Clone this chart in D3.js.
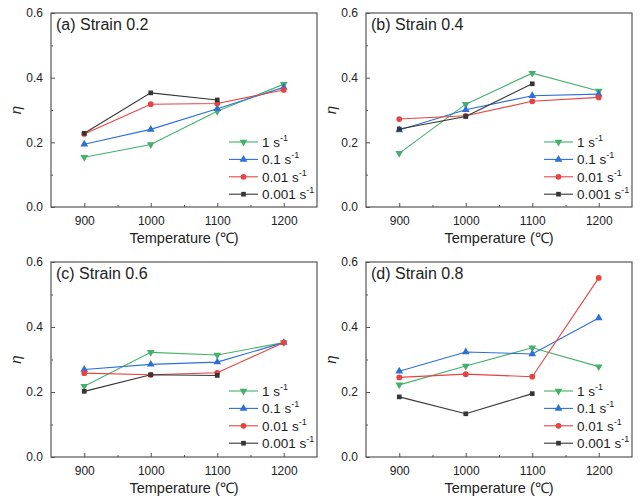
<!DOCTYPE html>
<html>
<head>
<meta charset="utf-8">
<script src="https://cdn.jsdelivr.net/npm/d3@7"></script>
<style>
  html, body { margin: 0; padding: 0; background: #fff; }
  svg { display: block; font-family: "Liberation Sans", Arial, sans-serif; }
</style>
</head>
<body>
<svg id="chart" width="642" height="504"></svg>
<script>
// ---- data ----
const temperatures = [900, 1000, 1100, 1200];
const rateLabels = ["1", "0.1", "0.01", "0.001"];
const panelTitles = ["(a) Strain 0.2", "(b) Strain 0.4", "(c) Strain 0.6", "(d) Strain 0.8"];
const yTicks = [0.0, 0.2, 0.4, 0.6];
const xTicks = [900, 1000, 1100, 1200];

// panel (a) strain 0.2
const a_1     = [0.154, 0.193, 0.296, 0.380];
const a_01    = [0.194, 0.240, 0.304, 0.370];
const a_001   = [0.226, 0.318, 0.320, 0.362];
const a_0001  = [0.228, 0.353, 0.331];
// panel (b) strain 0.4
const b_1     = [0.166, 0.318, 0.414, 0.359];
const b_01    = [0.238, 0.301, 0.344, 0.349];
const b_001   = [0.272, 0.282, 0.327, 0.339];
const b_0001  = [0.241, 0.280, 0.381];
// panel (c) strain 0.6
const c_1     = [0.218, 0.322, 0.314, 0.352];
const c_01    = [0.269, 0.285, 0.292, 0.352];
const c_001   = [0.258, 0.253, 0.259, 0.352];
const c_0001  = [0.202, 0.253, 0.251];
// panel (d) strain 0.8
const d_1     = [0.222, 0.280, 0.336, 0.278];
const d_01    = [0.264, 0.323, 0.317, 0.428];
const d_001   = [0.245, 0.255, 0.247, 0.551];
const d_0001  = [0.185, 0.133, 0.195];

const panelSeries = [
  [a_1, a_01, a_001, a_0001],
  [b_1, b_01, b_001, b_0001],
  [c_1, c_01, c_001, c_0001],
  [d_1, d_01, d_001, d_0001]
];

// ---- styling ----
const colors = ["#45b06c", "#2c6fd6", "#e84343", "#363636"];
const symbols = [d3.symbolTriangle, d3.symbolTriangle, d3.symbolCircle, d3.symbolSquare];
const symbolRot = [180, 0, 0, 0];
const symbolSize = [26, 26, 26, 22];

const panelBoxes = [
  {x0: 51,  x1: 317, y0: 13,  y1: 207},
  {x0: 366, x1: 632, y0: 13,  y1: 207},
  {x0: 51,  x1: 317, y0: 262, y1: 457},
  {x0: 366, x1: 632, y0: 262, y1: 457}
];

const svg = d3.select("#chart");
const axisColor = "#555";
const textColor = "#222";

panelBoxes.forEach((box, pi) => {
  const x = d3.scaleLinear().domain([850, 1250]).range([box.x0, box.x1]);
  const y = d3.scaleLinear().domain([0, 0.6]).range([box.y1, box.y0]);
  const g = svg.append("g");

  // frame
  g.append("rect")
    .attr("x", box.x0).attr("y", box.y0)
    .attr("width", box.x1 - box.x0).attr("height", box.y1 - box.y0)
    .attr("fill", "none").attr("stroke", axisColor).attr("stroke-width", 1.2);

  // x axis (ticks inward)
  const xAxis = d3.axisBottom(x).tickValues(xTicks).tickSizeInner(-4).tickSizeOuter(0).tickPadding(9).tickFormat(d3.format("d"));
  const gx = g.append("g").attr("transform", `translate(0,${box.y1})`).call(xAxis);
  gx.select(".domain").remove();
  gx.selectAll("line").attr("stroke", axisColor);
  gx.selectAll("text").attr("font-size", 12).attr("fill", textColor).attr("font-family", "Liberation Sans, Arial, sans-serif");
  const xMinor = d3.axisBottom(x).tickValues([950, 1050, 1150]).tickSizeInner(-2).tickSizeOuter(0).tickFormat("");
  const gxm = g.append("g").attr("transform", `translate(0,${box.y1})`).call(xMinor);
  gxm.select(".domain").remove();
  gxm.selectAll("line").attr("stroke", axisColor);

  // y axis
  const yAxis = d3.axisLeft(y).tickValues(yTicks).tickSizeInner(-4).tickSizeOuter(0).tickPadding(8).tickFormat(d3.format(".1f"));
  const gy = g.append("g").attr("transform", `translate(${box.x0},0)`).call(yAxis);
  gy.select(".domain").remove();
  gy.selectAll("line").attr("stroke", axisColor);
  gy.selectAll("text").attr("font-size", 12).attr("fill", textColor).attr("font-family", "Liberation Sans, Arial, sans-serif");
  const yMinor = d3.axisLeft(y).tickValues([0.1, 0.3, 0.5]).tickSizeInner(-2).tickSizeOuter(0).tickFormat("");
  const gym = g.append("g").attr("transform", `translate(${box.x0},0)`).call(yMinor);
  gym.select(".domain").remove();
  gym.selectAll("line").attr("stroke", axisColor);

  // axis titles
  g.append("text")
    .attr("x", (box.x0 + box.x1) / 2).attr("y", box.y1 + 36)
    .attr("text-anchor", "middle").attr("font-size", 14.5).attr("fill", textColor)
    .text("Temperature (℃)");
  g.append("text")
    .attr("transform", `translate(${box.x0 - 30},${(box.y0 + box.y1) / 2}) rotate(-90)`)
    .attr("text-anchor", "middle").attr("font-size", 15).attr("fill", textColor)
    .attr("font-style", "italic")
    .text("η");

  // panel title
  g.append("text")
    .attr("x", box.x0 + 5).attr("y", box.y0 + 17)
    .attr("font-size", 16).attr("fill", textColor)
    .text(panelTitles[pi]);

  // series
  const line = d3.line().x((d, i) => x(temperatures[i])).y(d => y(d));
  panelSeries[pi].forEach((vals, si) => {
    g.append("path").datum(vals)
      .attr("d", line).attr("fill", "none")
      .attr("stroke", colors[si]).attr("stroke-width", 1.1);
    g.selectAll(null).data(vals).enter().append("path")
      .attr("d", d3.symbol().type(symbols[si]).size(symbolSize[si]))
      .attr("transform", (d, i) => `translate(${x(temperatures[i])},${y(d)}) rotate(${symbolRot[si]})`)
      .attr("fill", colors[si]);
  });

  // legend
  const lgX0 = box.x0 + 178, lgX1 = box.x0 + 207, lgT = box.x0 + 211;
  rateLabels.forEach((lab, si) => {
    const ly = box.y0 + 129 + si * 17.4;
    g.append("line").attr("x1", lgX0).attr("x2", lgX1).attr("y1", ly).attr("y2", ly)
      .attr("stroke", colors[si]).attr("stroke-width", 1.1);
    g.append("path")
      .attr("d", d3.symbol().type(symbols[si]).size(symbolSize[si]))
      .attr("transform", `translate(${(lgX0 + lgX1) / 2},${ly}) rotate(${symbolRot[si]})`)
      .attr("fill", colors[si]);
    const t = g.append("text").attr("x", lgT).attr("y", ly + 5).attr("font-size", 13.5).attr("fill", textColor);
    t.append("tspan").text(lab + " s");
    t.append("tspan").attr("font-size", 9).attr("dy", -6).text("-1");
  });
});
</script>
</body>
</html>
